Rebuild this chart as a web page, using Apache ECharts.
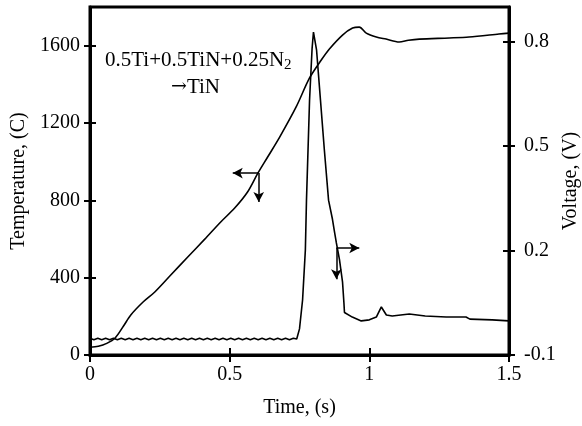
<!DOCTYPE html>
<html><head><meta charset="utf-8">
<script src="https://cdn.jsdelivr.net/npm/echarts@6/dist/echarts.min.js"></script>
<style>html,body{margin:0;padding:0;background:#fff}#c{width:582px;height:426px}</style>
</head><body><div id="c"></div>
<script>
// Temperature curve (left axis, °C)
var tempTime = [0,0.03,0.06,0.09,0.12,0.146,0.19,0.232,0.29,0.35,0.41,0.468,0.518,0.564,0.6,0.636,0.679,0.738,0.786,0.828,0.857,0.904,0.94,0.964,0.989,1.025,1.06,1.107,1.14,1.179,1.286,1.357,1.464,1.5];
var tempValue = [40,45,60,88,150,207,274,326,415,507,598,688,760,843,938,1024,1127,1283,1433,1526,1583,1655,1691,1696,1665,1645,1634,1619,1628,1634,1640,1645,1660,1665];
// Voltage curve (right axis, V)
var voltTime = [0,0.014,0.028,0.042,0.056,0.07,0.084,0.098,0.112,0.126,0.14,0.154,0.168,0.182,0.196,0.21,0.224,0.238,0.252,0.266,0.28,0.294,0.308,0.322,0.336,0.35,0.364,0.378,0.392,0.406,0.42,0.434,0.448,0.462,0.476,0.49,0.504,0.518,0.532,0.546,0.56,0.574,0.588,0.602,0.616,0.63,0.644,0.658,0.672,0.686,0.7,0.714,0.728,0.74,0.75,0.761,0.771,0.775,0.786,0.795,0.8,0.811,0.825,0.839,0.854,0.868,0.875,0.882,0.893,0.904,0.909,0.911,0.939,0.971,1.0,1.025,1.043,1.061,1.082,1.143,1.2,1.275,1.346,1.36,1.44,1.5];
var voltValue = [-0.052,-0.056,-0.052,-0.056,-0.052,-0.056,-0.052,-0.056,-0.052,-0.056,-0.052,-0.056,-0.052,-0.056,-0.052,-0.056,-0.052,-0.056,-0.052,-0.056,-0.052,-0.056,-0.052,-0.056,-0.052,-0.056,-0.052,-0.056,-0.052,-0.056,-0.052,-0.056,-0.052,-0.056,-0.052,-0.056,-0.052,-0.056,-0.052,-0.056,-0.052,-0.056,-0.052,-0.056,-0.052,-0.056,-0.052,-0.056,-0.052,-0.056,-0.052,-0.056,-0.052,-0.054,-0.025,0.058,0.202,0.345,0.633,0.78,0.828,0.777,0.633,0.489,0.345,0.29,0.255,0.222,0.175,0.11,0.05,0.022,0.009,-0.002,0.001,0.009,0.038,0.015,0.012,0.018,0.012,0.009,0.009,0.003,0.001,-0.002];
// Tick labels
var xTicks = [0, 0.5, 1, 1.5];
var tempTicks = [0, 400, 800, 1200, 1600];
var voltTicks = [-0.1, 0.2, 0.5, 0.8];
// Arrow annotations (data coordinates)
var tempArrows = [[[0.604, 941], [0.511, 941]], [[0.604, 941], [0.604, 791]]];
var voltArrows = [[[0.882, 0.2075], [0.964, 0.2075]], [[0.882, 0.2075], [0.882, 0.118]]];

function zip(a, b) { return a.map(function (v, i) { return [v, b[i]]; }); }
var FONT = '"Liberation Serif","Times New Roman",serif';
var lbl = { fontFamily: FONT, fontSize: 20, color: '#000' };
var axLine = { show: true, onZero: false, lineStyle: { color: '#000', width: 3 } };
var noLine = { show: false, onZero: false };
var tickStyle = { color: '#000', width: 2 };

var chart = echarts.init(document.getElementById('c'), null, { renderer: 'canvas' });
chart.setOption({
  animation: false,
  backgroundColor: '#fff',
  grid: { left: 90, right: 73, top: 7, bottom: 71, show: true, borderColor: '#000', borderWidth: 3,
    containLabel: false, outerBoundsMode: 'none' },
  xAxis: [
    { type: 'value', min: 0, max: 1.5, interval: 0.5, position: 'bottom',
      name: 'Time, (s)', nameLocation: 'middle', nameGap: 43, nameMoveOverlap: false,
      nameTextStyle: { fontFamily: FONT, fontSize: 20, color: '#000' },
      axisLine: axLine, axisTick: { show: true, length: 7, lineStyle: tickStyle },
      axisLabel: Object.assign({ margin: 10, customValues: xTicks }, lbl), splitLine: { show: false } },
    { type: 'value', min: 0, max: 1.5, interval: 0.5, position: 'bottom',
      axisLine: noLine, axisLabel: { show: false }, splitLine: { show: false },
      axisTick: { show: true, inside: true, length: 7, lineStyle: tickStyle } }
  ],
  yAxis: [
    { type: 'value', min: 0, max: 1800, position: 'left',
      name: 'Temperature, (C)', nameLocation: 'middle', nameGap: 61, nameRotate: 90, nameMoveOverlap: false,
      nameTextStyle: { fontFamily: FONT, fontSize: 20, color: '#000' },
      axisLine: axLine,
      axisTick: { show: true, length: 6, customValues: tempTicks, lineStyle: tickStyle },
      axisLabel: Object.assign({ margin: 10, customValues: tempTicks, formatter: function (v) { return String(v); } }, lbl),
      splitLine: { show: false } },
    { type: 'value', min: -0.1, max: 0.9, position: 'right',
      name: 'Voltage, (V)', nameLocation: 'middle', nameGap: 52, nameRotate: 90, nameMoveOverlap: false,
      nameTextStyle: { fontFamily: FONT, fontSize: 20, color: '#000' },
      axisLine: axLine,
      axisTick: { show: true, length: 6, customValues: voltTicks, lineStyle: tickStyle },
      axisLabel: Object.assign({ margin: 15, customValues: voltTicks, formatter: function (v) { return String(Math.round(v * 10) / 10); } }, lbl),
      splitLine: { show: false } },
    { type: 'value', min: 0, max: 1800, position: 'left',
      axisLine: noLine, axisLabel: { show: false }, splitLine: { show: false },
      axisTick: { show: true, inside: true, length: 6, customValues: tempTicks, lineStyle: tickStyle } },
    { type: 'value', min: -0.1, max: 0.9, position: 'right',
      axisLine: noLine, axisLabel: { show: false }, splitLine: { show: false },
      axisTick: { show: true, inside: true, length: 6, customValues: voltTicks, lineStyle: tickStyle } }
  ],
  series: [
    { type: 'line', name: 'Temperature', xAxisIndex: 0, yAxisIndex: 0, data: zip(tempTime, tempValue),
      smooth: 0.3, showSymbol: false, lineStyle: { color: '#000', width: 1.6 },
      markLine: { silent: true, symbol: ['none', 'arrow'], symbolSize: [8, 10], label: { show: false },
        lineStyle: { color: '#000', width: 1.5, type: 'solid' },
        data: tempArrows.map(function (a) { return [{ coord: a[0] }, { coord: a[1] }]; }) } },
    { type: 'line', name: 'Voltage', xAxisIndex: 0, yAxisIndex: 1, data: zip(voltTime, voltValue),
      showSymbol: false, lineStyle: { color: '#000', width: 1.6 },
      markLine: { silent: true, symbol: ['none', 'arrow'], symbolSize: [8, 10], label: { show: false },
        lineStyle: { color: '#000', width: 1.5, type: 'solid' },
        data: voltArrows.map(function (a) { return [{ coord: a[0] }, { coord: a[1] }]; }) } }
  ],
  graphic: [
    { type: 'text', left: 105, top: 50, style: {
        text: '0.5Ti+0.5TiN+0.25N{s|2}', fontFamily: FONT, fontSize: 21, fill: '#000',
        rich: { s: { fontFamily: FONT, fontSize: 15, padding: [10, 0, 0, 0] } } } },
    { type: 'text', left: 171, top: 77, style: {
        text: '{a|\u2192}TiN', fontFamily: FONT, fontSize: 21, fill: '#000',
        rich: { a: { fontFamily: '"DejaVu Serif",serif', fontSize: 19 } } } }
  ]
});
</script></body></html>
